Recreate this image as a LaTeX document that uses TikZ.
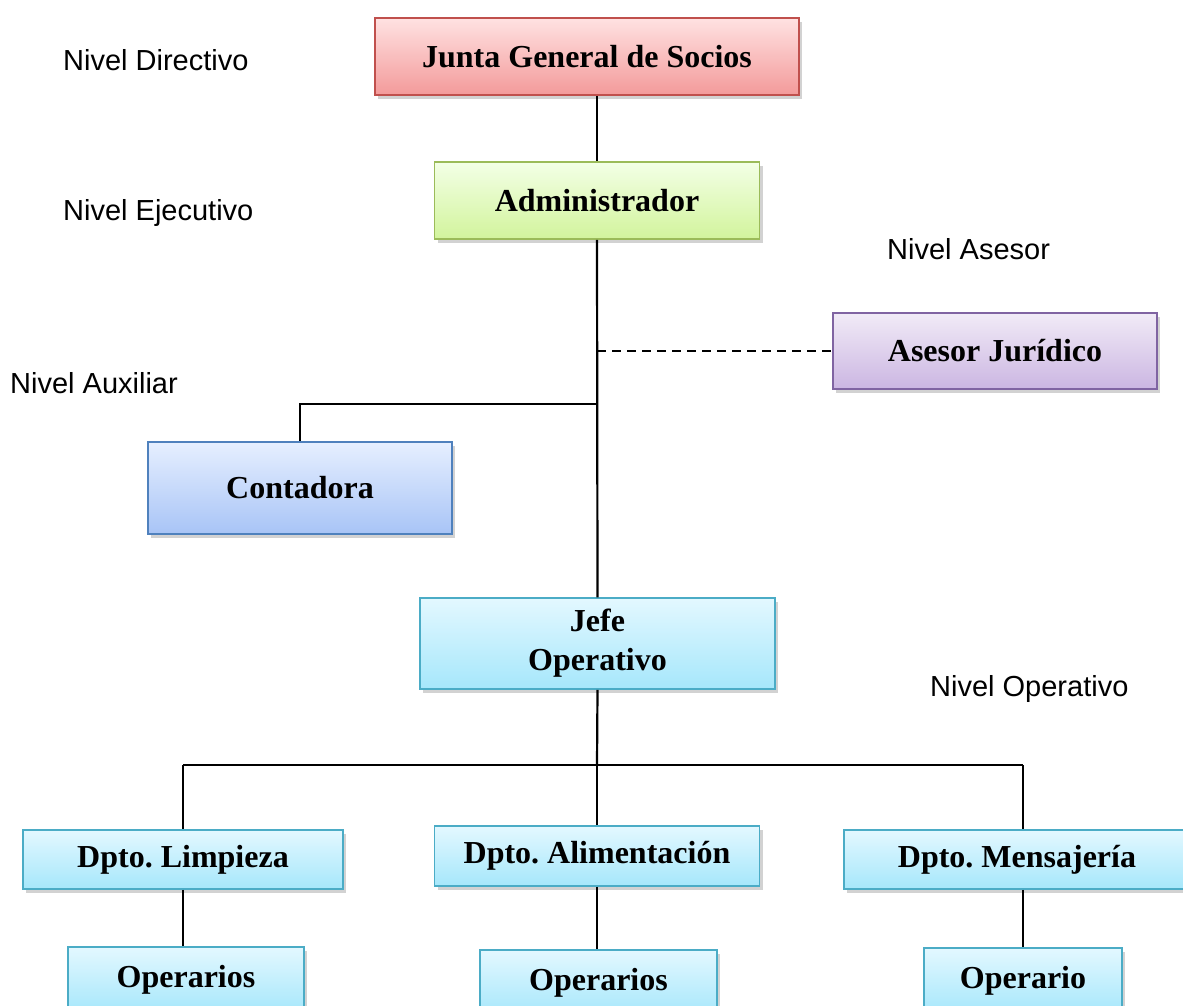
\documentclass[tikz,border=0pt]{standalone}
\usepackage{fontspec}
\setmainfont{Liberation Serif}
\newfontfamily\lvlfont{Liberation Sans}
\usetikzlibrary{shadows}
\frenchspacing
\definecolor{redtop}{HTML}{FFE2E2}
\definecolor{redbot}{HTML}{F39A9A}
\definecolor{redline}{HTML}{C0504D}
\definecolor{grntop}{HTML}{F3FFE6}
\definecolor{grnbot}{HTML}{D2F49C}
\definecolor{grnline}{HTML}{9BBB59}
\definecolor{purtop}{HTML}{F1EBF7}
\definecolor{purbot}{HTML}{CBB6E2}
\definecolor{purline}{HTML}{8064A2}
\definecolor{blutop}{HTML}{E6EFFF}
\definecolor{blubot}{HTML}{A8C4F6}
\definecolor{bluline}{HTML}{4F81BD}
\definecolor{cyntop}{HTML}{E3F8FF}
\definecolor{cynbot}{HTML}{A6E7FB}
\definecolor{cynline}{HTML}{4BACC6}
\tikzset{
  boxbase/.style={rectangle, line width=1.5pt, inner sep=0pt,
    font=\fontsize{32}{39}\selectfont\bfseries\frenchspacing, align=center,
    drop shadow={shadow xshift=3pt, shadow yshift=-4pt, opacity=0.35, fill=gray}},
  redbox/.style={boxbase, draw=redline, top color=redtop, bottom color=redbot},
  grnbox/.style={boxbase, draw=grnline, top color=grntop, bottom color=grnbot},
  purbox/.style={boxbase, draw=purline, top color=purtop, bottom color=purbot},
  blubox/.style={boxbase, draw=bluline, top color=blutop, bottom color=blubot},
  cynbox/.style={boxbase, draw=cynline, top color=cyntop, bottom color=cynbot},
  lvl/.style={anchor=west, inner sep=0pt, font=\lvlfont\fontsize{29}{34}\selectfont},
  conn/.style={line width=2.2pt, black},
}
\begin{document}
\begin{tikzpicture}[x=1pt, y=-1pt]
\useasboundingbox (0,0) rectangle (1183,1005);
\clip (0,0) rectangle (1183,1005);
\fill[white] (0,0) rectangle (1183,1005);

\node[redbox, minimum width=424pt, minimum height=77pt] (junta) at (587,56.5) {Junta General de Socios};
\node[grnbox, minimum width=325pt, minimum height=77pt] (admin) at (597,200.5) {Administrador};
\node[purbox, minimum width=324pt, minimum height=76pt] (asesor) at (995,351) {Asesor Jurídico};
\node[blubox, minimum width=304pt, minimum height=92pt] (conta) at (300,488) {Contadora};
\node[cynbox, minimum width=355pt, minimum height=91pt] (jefe) at (597.5,643.5) {Jefe\\Operativo};
\node[cynbox, minimum width=320pt, minimum height=59pt] (limp) at (183,859.5) {Dpto. Limpieza};
\node[cynbox, minimum width=325pt, minimum height=60pt] (alim) at (597,856) {Dpto. Alimentación};
\node[cynbox, minimum width=346pt, minimum height=59pt] (mens) at (1017,859.5) {Dpto. Mensajería};
\node[cynbox, minimum width=236pt, minimum height=66pt] (op1) at (186,980) {Operarios};
\node[cynbox, minimum width=237pt, minimum height=66pt] (op2) at (598.5,983) {Operarios};
\node[cynbox, minimum width=198pt, minimum height=66pt] (op3) at (1023,981) {Operario};

\node[lvl] (lv1) at (63,60) {Nivel Directivo};
\node[lvl] (lv2) at (63,213) {Nivel Ejecutivo};
\node[lvl] (lv3) at (887,249) {Nivel Asesor};
\node[lvl] (lv4) at (10,383) {Nivel Auxiliar};
\node[lvl] (lv5) at (930,689) {Nivel Operativo};

\coordinate (dashj) at (597,351);
\coordinate (contj) at (597,404);
\coordinate (opj) at (597,765);

\draw[conn] (junta.south -| admin.north) -- (admin.north);
\draw[conn] (admin.south) -- (jefe.north);
\draw[conn, dash pattern=on 9pt off 6pt] (dashj) -- (asesor.west);
\draw[conn] (contj) -| (conta.north);
\draw[conn] (jefe.south) -- (opj);
\draw[conn] (opj -| limp.north) -- (opj -| op3.north);
\draw[conn] (opj -| limp.north) -- (limp.north);
\draw[conn] (opj) -- (alim.north);
\draw[conn] (opj -| op3.north) -- (mens.north -| op3.north);
\draw[conn] (limp.south) -- (limp.south |- op1.north);
\draw[conn] (alim.south) -- (alim.south |- op2.north);
\draw[conn] (mens.south -| op3.north) -- (op3.north);
\end{tikzpicture}
\end{document}
